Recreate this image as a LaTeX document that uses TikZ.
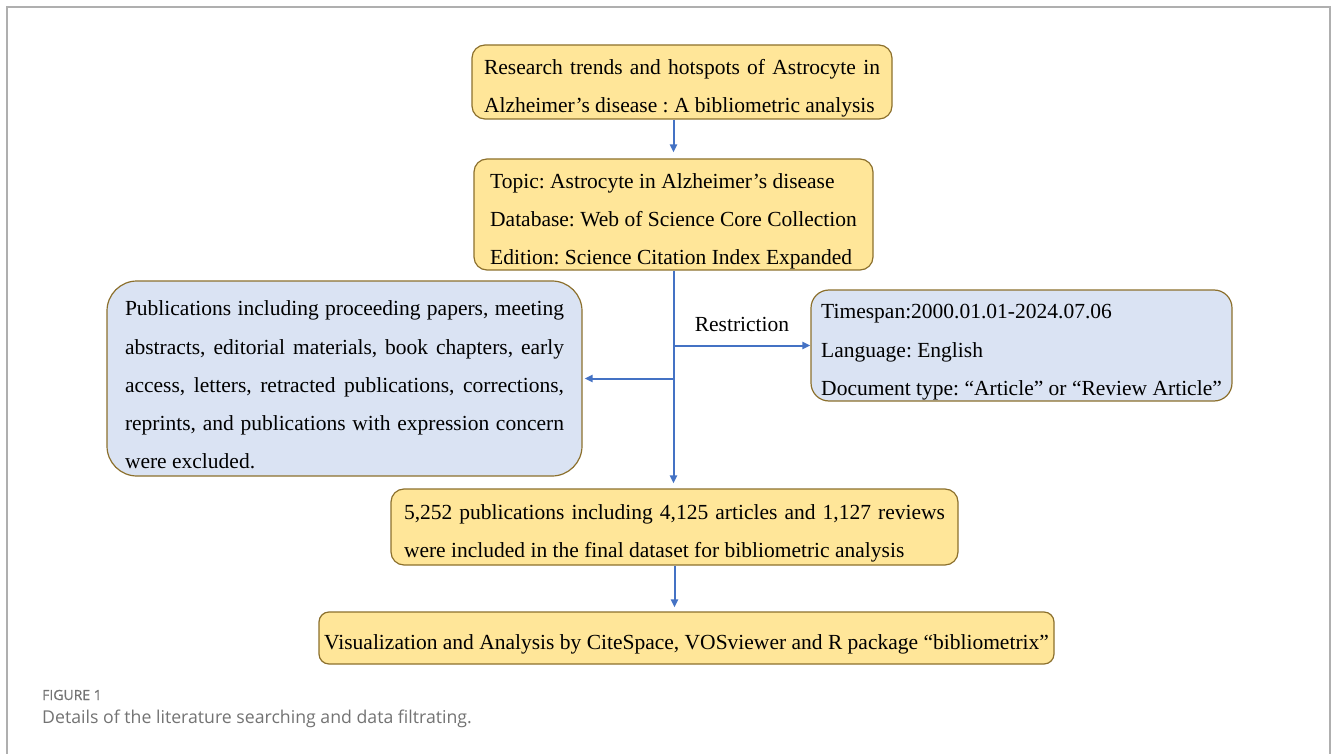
\documentclass[tikz,border=0pt]{standalone}
\usepackage{fontspec}
\setmainfont{Liberation Serif}
\newfontfamily\capfont{Open Sans}
\definecolor{flow_yellow}{RGB}{255, 230, 153}
\definecolor{flow_blue}{RGB}{218, 227, 243}
\definecolor{flow_edge}{RGB}{140, 112, 45}
\definecolor{flow_arrow}{RGB}{68, 114, 196}
\definecolor{flow_frame}{RGB}{175, 175, 175}
\definecolor{flow_caption}{RGB}{115, 115, 115}
\usepackage{tikz}
\usetikzlibrary{arrows.meta, positioning}
\newcommand{\boxfont}{\frenchspacing\fontsize{21.5}{38.2}\selectfont}
\newcommand{\toppad}{\rule{0pt}{28pt}}

\begin{document}
\begin{tikzpicture}[x=1pt, y=-1pt,
        ybox/.style={rectangle, rounded corners=13pt, draw=flow_edge,
                     line width=1.2pt, fill=flow_yellow, font=\boxfont,
                     inner ysep=0pt},
        bbox/.style={ybox, fill=flow_blue},
        arr/.style={-{Triangle[length=8pt, width=7pt]}, line width=2pt,
                    flow_arrow},
      ]
        \useasboundingbox (0,0) rectangle (1331,754);
        \draw[flow_frame, line width=1.5pt]
          (7,754) -- (7,7) -- (1330,7) -- (1330,754);

        \node[ybox, inner xsep=12pt, text width=396pt, minimum height=74pt,
              align=justify] (title) at (682,82)
          {\toppad Research trends and hotspots of Astrocyte in\linebreak
           Alzheimer’s disease : A bibliometric analysis};

        \node[ybox, minimum width=399pt, minimum height=111pt,
              align=left] (search) at (673.5,214.5)
          {\toppad Topic: Astrocyte in Alzheimer’s disease\\
           Database: Web of Science Core Collection\\
           Edition: Science Citation Index Expanded};

        \node[bbox, rounded corners=30pt, inner xsep=18pt, text width=439pt,
              minimum height=195pt, align=justify] (excl) at (344.5,378.5)
          {\toppad Publications including proceeding papers, meeting\linebreak
           abstracts, editorial materials, book chapters, early\linebreak
           access, letters, retracted publications, corrections,\linebreak
           reprints, and publications with expression concern\linebreak
           were excluded.};

        \node[bbox, rounded corners=18pt, minimum width=421pt,
              minimum height=111pt, align=left] (restr) at (1021.5,345.5)
          {\toppad Timespan:2000.01.01-2024.07.06\\
           Language: English\\
           Document type: “Article” or “Review Article”};

        \node[ybox, inner xsep=13pt, text width=541pt, minimum height=76pt,
              align=justify] (final) at (674.5,527)
          {\toppad 5,252 publications including 4,125 articles and 1,127 reviews\linebreak
           were included in the final dataset for bibliometric analysis};

        \node[ybox, rounded corners=10pt, minimum width=735pt,
              minimum height=52pt] (vis) at (686.5,638)
          {\toppad Visualization and Analysis by CiteSpace, VOSviewer and R package “bibliometrix”};

        % connectors
        \draw[arr, shorten >=6pt] (title.south -| search.north) -- (search.north);
        \draw[arr, shorten >=5pt] (search.south) -- (search.south |- final.north);
        \draw[arr] (search.south |- restr.west) -- (restr.west)
          node[midway, above=13pt, font=\boxfont, inner sep=0pt,
               color=black] (restrlabel) {Restriction};
        \draw[arr, shorten >=2pt] (search.south |- excl.east) -- (excl.east);
        \draw[arr, shorten >=4pt] (final.south) -- (final.south |- vis.north);

        % caption
        \node[anchor=west, inner sep=0pt, color=flow_caption,
              font=\capfont\addfontfeature{FakeBold=0.6}\fontsize{14}{16}\selectfont]
          (figlabel) at (42,695) {FIGURE 1};
        \node[anchor=west, inner sep=0pt, color=flow_caption,
              font=\capfont\fontsize{17.7}{22}\selectfont] (figcaption) at (42,719)
          {Details of the literature searching and data filtrating.};
      \end{tikzpicture}
\end{document}
